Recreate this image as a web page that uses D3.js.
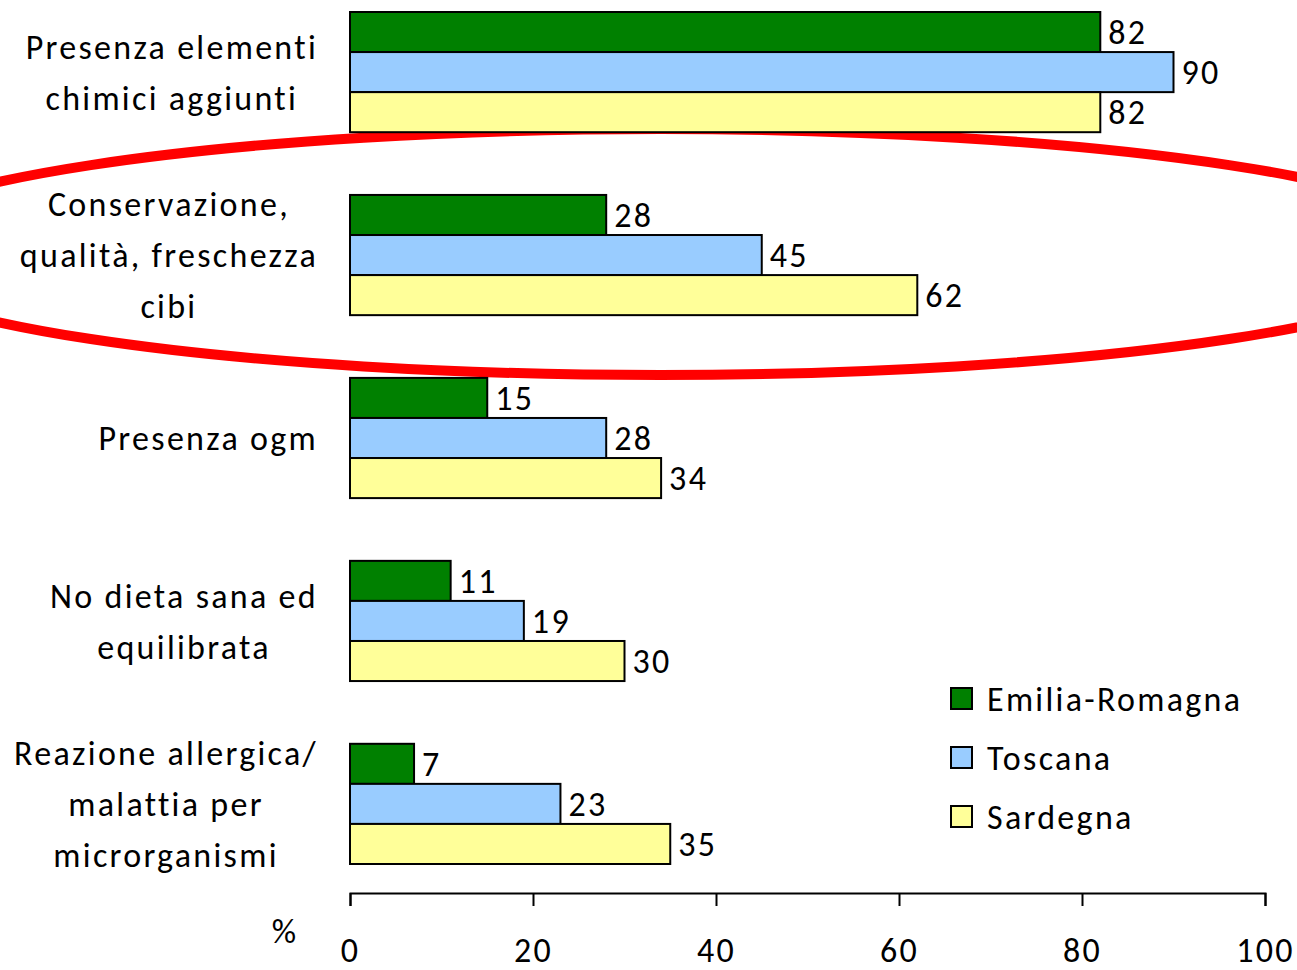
<!DOCTYPE html>
<html>
<head>
<meta charset="utf-8">
<script src="https://cdn.jsdelivr.net/npm/d3@7"></script>
<style>
  body { margin: 0; background: #fff; }
  svg { display: block; font-family: Carlito, Calibri, Lato, "Open Sans", sans-serif; }
  text { letter-spacing: 2.3px; }
</style>
</head>
<body>
<svg id="chart" width="1297" height="970"></svg>
<script>
const categories = [
  ["Presenza elementi", "chimici aggiunti"],
  ["Conservazione,", "qualità, freschezza", "cibi"],
  ["Presenza ogm"],
  ["No dieta sana ed", "equilibrata"],
  ["Reazione allergica/", "malattia per", "microrganismi"],
];
const series = ["Emilia-Romagna", "Toscana", "Sardegna"];
const emiliaRomagna = [82, 28, 15, 11, 7];
const toscana = [90, 45, 28, 19, 23];
const sardegna = [82, 62, 34, 30, 35];
const colors = ["#008000", "#99CCFF", "#FFFF99"];
const xTicks = [0, 20, 40, 60, 80, 100];

const SVG = d3.select("#chart");
const FONT = 34;
const LABELRIGHT = 318;

const values = [emiliaRomagna, toscana, sardegna];
const rows = categories.map((c, i) => ({
  id: i,
  lines: c,
  vals: series.map((s, j) => ({ s: s, j: j, v: values[j][i] })),
}));

const xScale = d3.scaleLinear().domain([0, 100]).range([350, 1265]);
const yScale = d3
  .scaleBand()
  .domain(rows.map((d) => d.id))
  .range([12, 864])
  .paddingInner(0.343)
  .paddingOuter(0);
const ySub = d3
  .scaleBand()
  .domain(series)
  .range([0, yScale.bandwidth()]);

// red highlight ellipse around the second group
const hl = rows[1];
SVG.append("ellipse")
  .attr("cx", 660)
  .attr("cy", yScale(hl.id) + yScale.bandwidth() / 2 - 3)
  .attr("rx", 805)
  .attr("ry", 123)
  .attr("fill", "none")
  .attr("stroke", "#FF0000")
  .attr("stroke-width", 10);

// bars
const groups = SVG.selectAll("g.group")
  .data(rows)
  .join("g")
  .attr("class", "group")
  .attr("transform", (d) => "translate(0," + yScale(d.id) + ")");

groups
  .selectAll("rect")
  .data((d) => d.vals)
  .join("rect")
  .attr("x", xScale(0))
  .attr("y", (d) => ySub(d.s))
  .attr("width", (d) => xScale(d.v) - xScale(0))
  .attr("height", ySub.bandwidth())
  .attr("fill", (d) => colors[d.j])
  .attr("stroke", "#000")
  .attr("stroke-width", 2);

groups
  .selectAll("text.val")
  .data((d) => d.vals)
  .join("text")
  .attr("class", "val")
  .attr("x", (d) => xScale(d.v) + 8)
  .attr("y", (d) => ySub(d.s) + ySub.bandwidth() / 2)
  .attr("dy", "0.36em")
  .attr("font-size", FONT)
  .text((d) => d.v);

// category labels: each block centred, block right-aligned
groups.each(function (d) {
  const g = d3.select(this);
  const lineH = 51;
  const mid = yScale.bandwidth() / 2;
  const texts = g
    .selectAll("text.cat")
    .data(d.lines)
    .join("text")
    .attr("class", "cat")
    .attr("font-size", FONT)
    .attr("text-anchor", "middle")
    .attr("y", (t, i) => mid + (i - (d.lines.length - 1) / 2) * lineH)
    .attr("dy", "0.36em")
    .text((t) => t);
  let maxW = 0;
  texts.each(function () {
    maxW = Math.max(maxW, this.getComputedTextLength());
  });
  texts.attr("x", LABELRIGHT - maxW / 2);
});

// x axis
const axisG = SVG.append("g")
  .attr("transform", "translate(0,893)")
  .call(d3.axisBottom(xScale).tickValues(xTicks).tickSize(13).tickSizeOuter(13).tickPadding(32));
axisG.attr("font-family", null);
axisG.select(".domain").attr("stroke", "#000").attr("stroke-width", 2);
axisG.selectAll(".tick line").attr("stroke", "#000").attr("stroke-width", 2);
axisG.selectAll(".tick text")
  .attr("font-size", FONT)
  .attr("fill", "#000");

SVG.append("text")
  .attr("x", 285)
  .attr("y", 931)
  .attr("dy", "0.36em")
  .attr("text-anchor", "middle")
  .attr("font-size", FONT)
  .text("%");

// legend
const legend = SVG.append("g").attr("transform", "translate(951,688)");
const legItems = legend
  .selectAll("g")
  .data(series)
  .join("g")
  .attr("transform", (d, i) => "translate(0," + i * 59 + ")");
legItems
  .append("rect")
  .attr("width", 21)
  .attr("height", 21)
  .attr("fill", (d, i) => colors[i])
  .attr("stroke", "#000")
  .attr("stroke-width", 2);
legItems
  .append("text")
  .attr("x", 36)
  .attr("y", 11)
  .attr("dy", "0.36em")
  .attr("font-size", FONT)
  .text((d) => d);
</script>
</body>
</html>
